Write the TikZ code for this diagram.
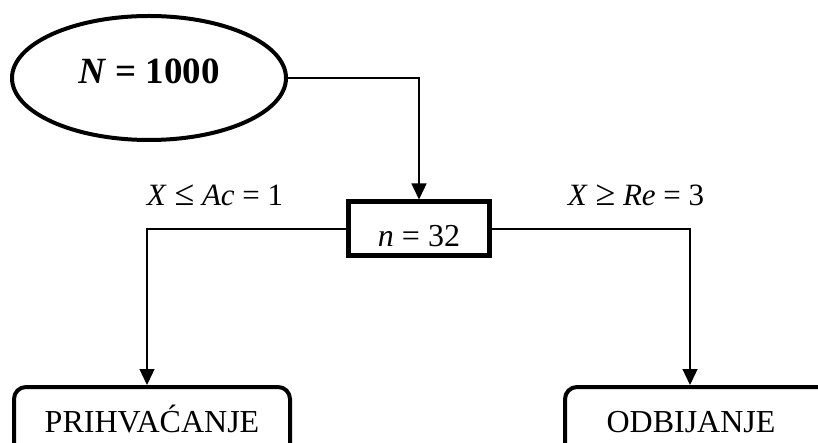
\documentclass[tikz,border=0pt]{standalone}
\usepackage{fontspec}
\setmainfont{Liberation Serif}
\usetikzlibrary{shapes.geometric,arrows.meta}
\newcommand{\bigrel}[1]{{\fontsize{36}{40}\selectfont #1}}
\begin{document}
\begin{tikzpicture}[x=1pt,y=-1pt,
  thickbox/.style={draw,line width=4pt,inner sep=0pt},
  conn/.style={line width=1.3pt},
  arr/.style={conn,-{Triangle[length=16pt,width=15pt]}},
  lbl/.style={font=\fontsize{31}{35}\selectfont,inner sep=0pt},
  endbox/.style={thickbox,rounded corners=12pt,anchor=north,text height=45pt,text depth=60pt,font=\fontsize{32}{37}\selectfont}]
\useasboundingbox (0,0) rectangle (818,443);
\clip (0,0) rectangle (818,443);
\node[thickbox,ellipse,minimum width=274pt,minimum height=124pt,text depth=14pt,font=\fontsize{37}{42}\selectfont\bfseries] (ell) at (149,78) {\textit{N} = 1000};
\node[thickbox,line width=5pt,minimum width=141pt,minimum height=54pt,text height=35pt,text depth=0pt,font=\fontsize{32}{36}\selectfont] (nbox) at (419,229) {\textit{n} = 32};
\node[endbox,minimum width=276pt] (pbox) at (152,385) {PRIHVAĆANJE};
\node[endbox,minimum width=264pt] (obox) at (697,385) {ODBIJANJE\hspace*{12pt}};
\draw[arr] (ell.east) -| (nbox.north);
\draw[arr] (nbox.west) -| ([xshift=-5pt]pbox.north);
\draw[arr] (nbox.east) -| ([xshift=-7pt]obox.north);
\node[lbl] (lacc) at (215,195) {\textit{X} \bigrel{≤} \textit{Ac} = 1};
\node[lbl] (lrej) at (636,195) {\textit{X} \bigrel{≥} \textit{Re} = 3};
\end{tikzpicture}
\end{document}
